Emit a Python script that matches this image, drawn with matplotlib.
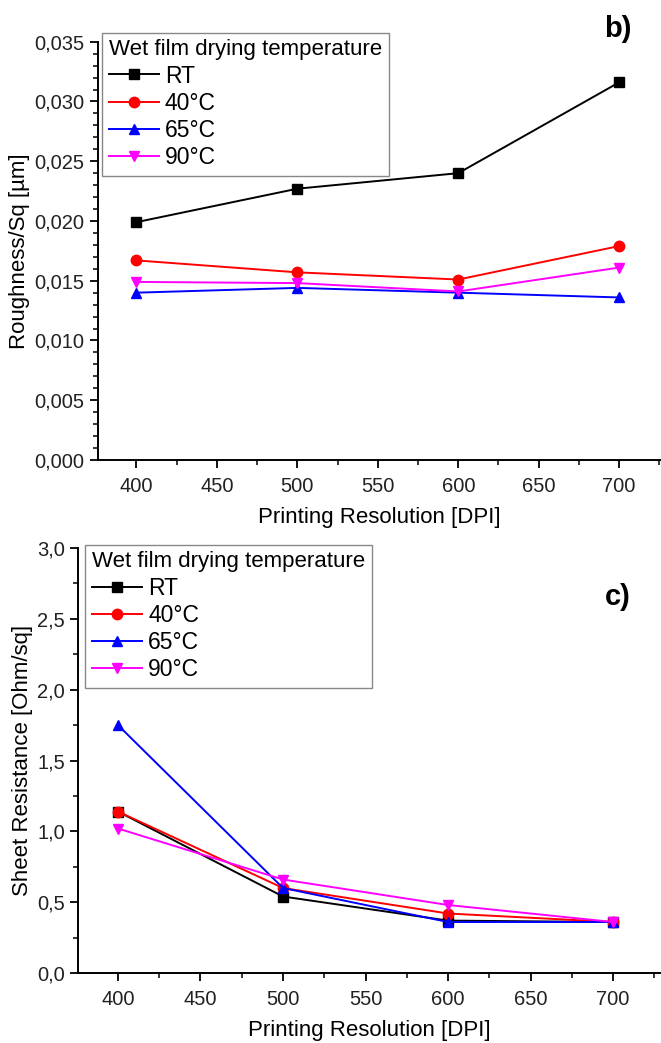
import matplotlib
matplotlib.use('Agg')
import matplotlib.pyplot as plt
from matplotlib.ticker import MultipleLocator, FuncFormatter

plt.rcParams['font.family'] = ['Liberation Sans', 'DejaVu Sans']

dpi = [400, 500, 600, 700]
labels = ['RT', '40°C', '65°C', '90°C']

# roughness Sq [um]
rough_rt = [0.0199, 0.0227, 0.0240, 0.0316]
rough_40 = [0.0167, 0.0157, 0.0151, 0.0179]
rough_65 = [0.0140, 0.0144, 0.0140, 0.0136]
rough_90 = [0.0149, 0.0148, 0.0141, 0.0161]

# sheet resistance [Ohm/sq]
res_rt = [1.14, 0.54, 0.37, 0.36]
res_40 = [1.14, 0.60, 0.42, 0.36]
res_65 = [1.75, 0.60, 0.36, 0.36]
res_90 = [1.02, 0.66, 0.48, 0.36]

colors = ['black', 'red', 'blue', 'magenta']
markers = ['s', 'o', '^', 'v']


def comma_fmt(nd):
    return FuncFormatter(lambda v, p: f"{v:.{nd}f}".replace('.', ','))


def style_axes(ax, xlim, ylim, ymaj, ymin, nd, ylabel):
    ax.set_xlim(*xlim)
    ax.set_ylim(*ylim)
    ax.spines['top'].set_visible(False)
    ax.spines['right'].set_visible(False)
    ax.spines['left'].set_linewidth(1.4)
    ax.spines['bottom'].set_linewidth(1.4)
    ax.xaxis.set_major_locator(MultipleLocator(50))
    ax.xaxis.set_minor_locator(MultipleLocator(25))
    ax.yaxis.set_major_locator(MultipleLocator(ymaj))
    ax.yaxis.set_minor_locator(MultipleLocator(ymin))
    ax.yaxis.set_major_formatter(comma_fmt(nd))
    ax.tick_params(which='major', direction='out', length=6, width=1.3,
                   labelsize=14.5, labelcolor='#222222')
    ax.tick_params(axis='x', which='major', pad=6)
    ax.tick_params(which='minor', direction='out', length=3.5, width=1.1)
    ax.set_xlabel('Printing Resolution [DPI]', fontsize=16, labelpad=8)
    ax.set_ylabel(ylabel, fontsize=16, labelpad=3)


def add_legend(ax, anchor):
    leg = ax.legend(title='Wet film drying temperature', loc='upper left',
                    bbox_to_anchor=anchor, fontsize=16.5, title_fontsize=16,
                    fancybox=False, edgecolor='#888888', framealpha=1,
                    handlelength=2.2, handletextpad=0.25, labelspacing=0.18,
                    borderpad=0.3, borderaxespad=0, alignment='left')
    leg.get_frame().set_linewidth(1.0)


fig = plt.figure(figsize=(6.61, 10.43), dpi=100)

ax1 = fig.add_axes([0.148, 0.559, 0.852, 0.401])
for ys, c, m, lab in zip([rough_rt, rough_40, rough_65, rough_90], colors, markers, labels):
    ax1.plot(dpi, ys, color=c, marker=m, markersize=7.5, linewidth=1.4, label=lab)
style_axes(ax1, (376, 726), (0, 0.035), 0.005, 0.001, 3, 'Roughness/Sq [µm]')
add_legend(ax1, (0.007, 1.022))
fig.text(0.935, 0.972, 'b)', fontsize=21, fontweight='bold', ha='center', va='center')

ax2 = fig.add_axes([0.118, 0.0671, 0.882, 0.4075])
for ys, c, m, lab in zip([res_rt, res_40, res_65, res_90], colors, markers, labels):
    ax2.plot(dpi, ys, color=c, marker=m, markersize=7.5, linewidth=1.4, label=lab)
style_axes(ax2, (375.8, 729), (0, 3.0), 0.5, 0.25, 1, 'Sheet Resistance [Ohm/sq]')
add_legend(ax2, (0.012, 1.008))
fig.text(0.935, 0.428, 'c)', fontsize=21, fontweight='bold', ha='center', va='center')

fig.savefig('out.png', dpi=100)
